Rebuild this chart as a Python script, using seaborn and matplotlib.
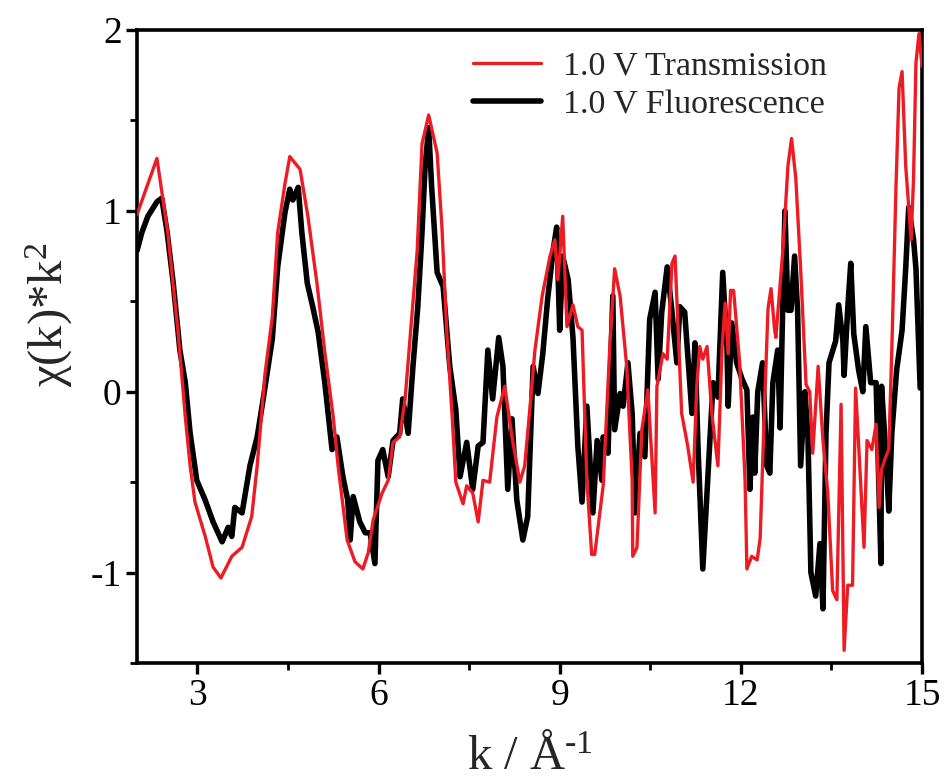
import numpy as np
import pandas as pd
import matplotlib
matplotlib.use("Agg")
import matplotlib.pyplot as plt
from matplotlib.ticker import MultipleLocator
import seaborn as sns

# ---- data ----
k_trans = [2.00, 2.33, 2.51, 2.68, 2.80, 2.88, 2.96, 3.13, 3.26, 3.39, 3.57, 3.74, 3.90, 3.99,
           4.12, 4.24, 4.33, 4.45, 4.53, 4.70, 4.83, 4.98, 5.11, 5.25, 5.33, 5.48, 5.61, 5.74,
           5.83, 5.91, 6.06, 6.16, 6.24, 6.35, 6.44, 6.55, 6.64, 6.72, 6.83, 6.97, 7.05, 7.13,
           7.22, 7.28, 7.40, 7.46, 7.56, 7.65, 7.73, 7.84, 7.96, 8.09, 8.21, 8.34, 8.42, 8.51,
           8.59, 8.71, 8.84, 8.92, 8.97, 9.05, 9.12, 9.22, 9.30, 9.37, 9.45, 9.53, 9.58, 9.72,
           9.83, 9.91, 10.00, 10.11, 10.20, 10.21, 10.28, 10.36, 10.46, 10.58, 10.61, 10.71,
           10.78, 10.86, 10.91, 11.02, 11.12, 11.21, 11.27, 11.32, 11.37, 11.44, 11.52, 11.62,
           11.69, 11.74, 11.79, 11.83, 11.88, 11.98, 12.07, 12.10, 12.18, 12.27, 12.32, 12.40,
           12.45, 12.50, 12.56, 12.58, 12.70, 12.78, 12.84, 12.91, 12.99, 13.08, 13.14, 13.19,
           13.28, 13.36, 13.44, 13.52, 13.59, 13.66, 13.71, 13.77, 13.85, 13.90, 13.95, 14.04,
           14.09, 14.17, 14.24, 14.29, 14.33, 14.40, 14.45, 14.50, 14.57, 14.62, 14.67, 14.73,
           14.82, 14.86, 14.90, 14.95, 15.00]
chi_trans = [0.98, 1.29, 0.88, 0.33, -0.14, -0.41, -0.61, -0.80, -0.97, -1.03, -0.91, -0.86, -0.69, -0.41,
             0.10, 0.41, 0.88, 1.15, 1.30, 1.23, 0.97, 0.60, 0.22, -0.14, -0.41, -0.82, -0.94, -0.98,
             -0.89, -0.71, -0.56, -0.49, -0.28, -0.25, -0.04, 0.41, 0.78, 1.37, 1.53, 1.32, 0.91, 0.33,
             -0.14, -0.50, -0.62, -0.52, -0.56, -0.72, -0.49, -0.50, -0.14, 0.03, -0.25, -0.50, -0.41, -0.08,
             0.23, 0.53, 0.75, 0.84, 0.62, 0.97, 0.36, 0.48, 0.36, 0.34, -0.49, -0.90, -0.90, -0.52,
             0.25, 0.68, 0.53, 0.14, -0.49, -0.91, -0.86, -0.21, 0.01, -0.67, 0.03, 0.21,
             0.18, 0.71, 0.75, -0.12, -0.30, -0.50, 0.03, 0.25, 0.18, 0.25, -0.12, -0.41,
             0.25, 0.49, 0.21, 0.56, 0.56, 0.16, -0.49, -0.98, -0.91, -0.93, -0.81, 0.00,
             0.46, 0.57, 0.34, 0.30, 0.80, 1.25, 1.40, 1.18, 0.68, 0.04, 0.00, -0.34,
             0.14, -0.27, -0.56, -1.10, -1.15, -0.07, -1.43, -1.07, -1.07, 0.02, -0.29, -0.86,
             -0.27, -0.32, -0.18, -0.64, -0.43, -0.36, -0.32, 0.23, 1.14, 1.68, 1.77, 1.25,
             0.84, 1.18, 1.82, 1.98, 1.80]

k_fluor = [2.00, 2.08, 2.18, 2.33, 2.41, 2.50, 2.60, 2.71, 2.80, 2.88, 2.99, 3.13, 3.26, 3.41,
           3.51, 3.57, 3.62, 3.74, 3.87, 3.99, 4.09, 4.24, 4.33, 4.45, 4.53, 4.58, 4.67, 4.73,
           4.82, 4.91, 5.00, 5.11, 5.23, 5.31, 5.41, 5.49, 5.53, 5.58, 5.69, 5.78, 5.86, 5.94,
           5.99, 6.07, 6.16, 6.24, 6.35, 6.40, 6.49, 6.57, 6.65, 6.72, 6.77, 6.83, 6.88, 6.97,
           7.07, 7.18, 7.28, 7.35, 7.46, 7.56, 7.65, 7.73, 7.81, 7.89, 7.99, 8.06, 8.14, 8.21,
           8.29, 8.39, 8.47, 8.56, 8.64, 8.72, 8.80, 8.89, 8.95, 9.00, 9.05, 9.14, 9.22, 9.30,
           9.37, 9.45, 9.55, 9.62, 9.70, 9.72, 9.80, 9.88, 9.91, 10.00, 10.05, 10.13, 10.20,
           10.25, 10.33, 10.41, 10.49, 10.58, 10.63, 10.69, 10.78, 10.86, 10.94, 10.99, 11.07,
           11.12, 11.19, 11.24, 11.29, 11.37, 11.45, 11.54, 11.62, 11.70, 11.77, 11.79, 11.85,
           11.93, 12.02, 12.10, 12.15, 12.20, 12.23, 12.28, 12.36, 12.43, 12.48, 12.53, 12.61,
           12.65, 12.70, 12.73, 12.78, 12.83, 12.89, 12.94, 12.99, 13.06, 13.11, 13.16, 13.24,
           13.31, 13.36, 13.41, 13.46, 13.57, 13.62, 13.69, 13.71, 13.77, 13.82, 13.87, 13.95,
           14.02, 14.07, 14.15, 14.24, 14.32, 14.33, 14.40, 14.45, 14.50, 14.58, 14.67, 14.73,
           14.78, 14.86, 14.90, 14.97]
chi_fluor = [0.78, 0.88, 0.97, 1.05, 1.07, 0.88, 0.60, 0.23, 0.05, -0.23, -0.49, -0.60, -0.72, -0.83,
             -0.75, -0.80, -0.64, -0.67, -0.41, -0.25, -0.04, 0.29, 0.69, 0.99, 1.12, 1.06, 1.13, 0.88,
             0.60, 0.47, 0.33, 0.05, -0.32, -0.25, -0.47, -0.60, -0.82, -0.58, -0.72, -0.78, -0.78, -0.95,
             -0.38, -0.32, -0.47, -0.27, -0.23, -0.04, -0.23, 0.14, 0.47, 0.88, 1.24, 1.46, 1.13, 0.66,
             0.58, 0.14, -0.10, -0.47, -0.28, -0.54, -0.30, -0.28, 0.23, -0.04, 0.30, 0.14, -0.54, -0.15,
             -0.60, -0.82, -0.69, 0.14, -0.01, 0.21, 0.51, 0.78, 0.91, 0.34, 0.75, 0.62, 0.30, -0.30,
             -0.61, -0.08, -0.67, -0.27, -0.49, -0.25, -0.34, 0.53, -0.21, -0.01, -0.08, 0.16, -0.12,
             -0.67, -0.23, -0.36, 0.40, 0.55, 0.07, 0.44, 0.69, 0.44, 0.16, 0.47, 0.44,
             0.21, -0.12, 0.27, -0.30, -0.98, -0.49, 0.05, -0.03, 0.66, 0.25, -0.08, 0.38,
             0.16, 0.07, 0.01, -0.54, -0.14, -0.45, 0.00, 0.16, -0.41, -0.45, 0.05, 0.23,
             -0.20, 0.57, 1.00, 0.45, 0.45, 0.75, 0.45, -0.41, 0.00, -0.23, -1.00, -1.13,
             -0.84, -1.20, -0.23, 0.16, 0.28, 0.48, 0.28, 0.09, 0.46, 0.71, 0.32, 0.12,
             0.00, 0.36, 0.05, 0.05, -0.95, 0.03, -0.34, -0.66, -0.23, 0.12, 0.34, 0.68,
             1.02, 0.84, 0.68, 0.02]

series_names = ["1.0 V Transmission", "1.0 V Fluorescence"]
x_ticks = [3, 6, 9, 12, 15]
y_ticks = [-1, 0, 1, 2]

# ---- style ----
sns.set_theme(style="ticks")
plt.rcParams["font.family"] = ["Liberation Serif", "DejaVu Serif"]
plt.rcParams["mathtext.fontset"] = "custom"
plt.rcParams["mathtext.rm"] = "Liberation Serif"
plt.rcParams["mathtext.it"] = "Liberation Serif"

fig = plt.figure(figsize=(9.46, 7.80), dpi=100)
ax = fig.add_axes([137 / 946, 1 - 663 / 780, (922 - 137) / 946, (663 - 30) / 780])

df_t = pd.DataFrame({"k": k_trans, "chi": chi_trans})
df_f = pd.DataFrame({"k": k_fluor, "chi": chi_fluor})

sns.lineplot(data=df_f, x="k", y="chi", ax=ax, color="#000000", lw=4.0,
             sort=False, estimator=None, label=series_names[1], zorder=2)
sns.lineplot(data=df_t, x="k", y="chi", ax=ax, color="#ED1C24", lw=2.4,
             sort=False, estimator=None, label=series_names[0], zorder=3)

ax.set_xlim(2, 15)
ax.set_ylim(-1.5, 2)
ax.set_xticks(x_ticks)
ax.set_yticks(y_ticks)
ax.set_xticklabels([str(v) for v in x_ticks])
ax.set_yticklabels([str(v) for v in y_ticks])
ax.xaxis.set_minor_locator(MultipleLocator(1.5))
ax.yaxis.set_minor_locator(MultipleLocator(0.5))

for s in ax.spines.values():
    s.set_linewidth(2.6)
    s.set_color("black")
    s.set_visible(True)
ax.tick_params(axis="both", which="major", direction="out", length=8, width=2.4,
               labelsize=27, pad=3, colors="black", top=False, right=False)
ax.tick_params(axis="both", which="minor", direction="out", length=5, width=2.0,
               top=False, right=False, colors="black")

ax.set_xlabel("k / Å$^{\\mathregular{\u2010}\\mathregular{1}}$", fontsize=35, labelpad=16)
ax.set_ylabel(r"χ(k)*k$^{\mathregular{2}}$", fontsize=35)
ax.yaxis.set_label_coords(-0.079, 0.55)

# legend in the order of the reference
h, l = ax.get_legend_handles_labels()
order = [l.index(series_names[0]), l.index(series_names[1])]
leg = ax.legend([h[i] for i in order], [l[i] for i in order],
                loc="upper left", bbox_to_anchor=(0.428, 0.967), frameon=False,
                fontsize=24.5, handlelength=2.0, handletextpad=0.65,
                labelspacing=0.22, borderpad=0, borderaxespad=0)

fig.savefig("out.png", dpi=100)
